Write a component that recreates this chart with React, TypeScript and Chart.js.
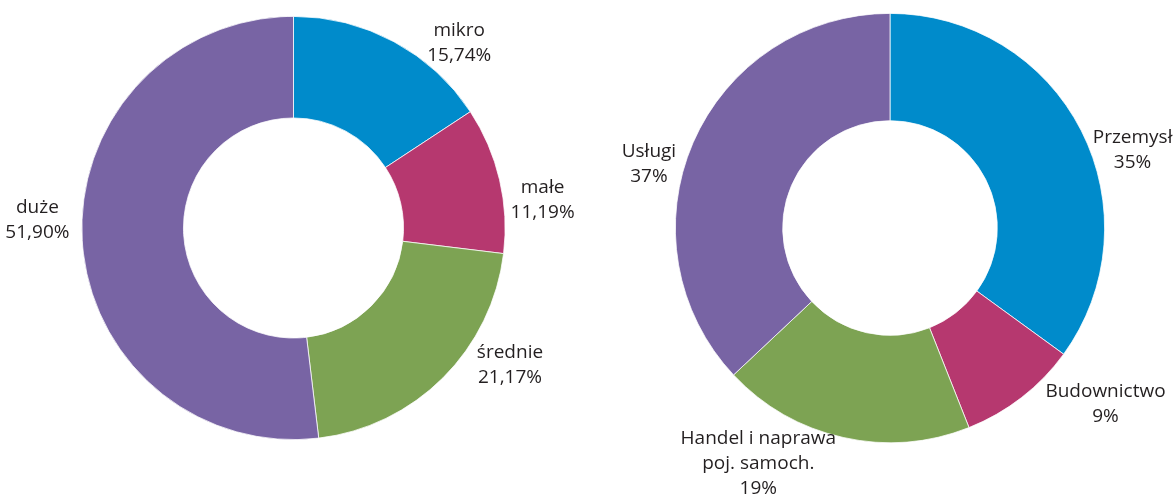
import React, { useEffect, useRef } from 'react';
import { Chart, registerables } from 'chart.js';

Chart.register(...registerables);

// ---- data ----
const sizeCategories = ['mikro', 'małe', 'średnie', 'duże'];
const sizeValues = [15.74, 11.19, 21.17, 51.9];

const sectorCategories = ['Przemysł', 'Budownictwo', 'Handel i naprawa\npoj. samoch.', 'Usługi'];
const sectorValues = [35, 9, 19, 37];

const sliceColors = ['#008BCB', '#B6386F', '#7DA353', '#7864A4'];

// ---- label layout (relative to each arc's mid-angle and outer radius) ----
const sizeLabelNudgeDeg = [13.3, 6.5, -13, 5.6];
const sizeLabelDist = [1.179, 1.185, 1.207, 1.211];
const sectorLabelNudgeDeg = [8.9, -13.2, 16.8, -8.2];
const sectorLabelDist = [1.189, 1.292, 1.25, 1.164];

const FONT_SIZE = 19;
const LINE_H = 25;
const TEXT_COLOR = '#231F20';

function makeLabelPlugin(nudge: number[], dist: number[], format: (v: number) => string) {
  return {
    id: 'outsideLabels',
    afterDatasetsDraw(chart: any) {
      const ctx = chart.ctx as CanvasRenderingContext2D;
      const meta = chart.getDatasetMeta(0);
      const data = chart.data.datasets[0].data as number[];
      ctx.save();
      ctx.font = `${FONT_SIZE}px "Open Sans"`;
      ctx.fillStyle = TEXT_COLOR;
      ctx.textAlign = 'center';
      ctx.textBaseline = 'alphabetic';
      const capH = FONT_SIZE * 0.714;
      meta.data.forEach((arc: any, i: number) => {
        const p = arc.getProps(['x', 'y', 'startAngle', 'endAngle', 'outerRadius'], true);
        const mid = (p.startAngle + p.endAngle) / 2 + (nudge[i] * Math.PI) / 180;
        const d = p.outerRadius * dist[i];
        const ax = p.x + Math.cos(mid) * d;
        const ay = p.y + Math.sin(mid) * d;
        const lines = [...String(chart.data.labels[i]).split('\n'), format(data[i])];
        const n = lines.length;
        lines.forEach((t, j) => {
          ctx.fillText(t, ax, ay + capH / 2 + (j - (n - 1) / 2) * LINE_H);
        });
      });
      ctx.restore();
    },
  };
}

function Donut(props: {
  labels: string[];
  values: number[];
  cutout: string;
  padding: { top: number; bottom: number; left: number; right: number };
  left: number;
  width: number;
  nudge: number[];
  dist: number[];
  format: (v: number) => string;
}) {
  const ref = useRef<HTMLCanvasElement | null>(null);
  useEffect(() => {
    if (!ref.current) return;
    const chart = new Chart(ref.current, {
      type: 'doughnut',
      data: {
        labels: props.labels,
        datasets: [
          {
            data: props.values,
            backgroundColor: sliceColors,
            borderColor: '#ffffff',
            borderWidth: 0.75,
          },
        ],
      },
      options: {
        responsive: false,
        animation: false,
        devicePixelRatio: 1,
        cutout: props.cutout,
        layout: { padding: props.padding },
        plugins: {
          legend: { display: false },
          tooltip: { enabled: false },
        },
      },
      plugins: [makeLabelPlugin(props.nudge, props.dist, props.format)],
    } as any);
    return () => chart.destroy();
  }, []);
  return (
    <canvas
      ref={ref}
      width={props.width}
      height={497}
      style={{ position: 'absolute', left: props.left, top: 0, width: props.width, height: 497 }}
    />
  );
}

export default function App() {
  return (
    <div style={{ position: 'absolute', left: 0, top: 0, width: 1175, height: 497, background: '#fff', overflow: 'hidden' }}>
      <Donut
        labels={sizeCategories}
        values={sizeValues}
        cutout="52%"
        padding={{ top: 16, bottom: 57, left: 0, right: 0 }}
        left={0}
        width={587}
        nudge={sizeLabelNudgeDeg}
        dist={sizeLabelDist}
        format={(v) => v.toFixed(2).replace('.', ',') + '%'}
      />
      <Donut
        labels={sectorCategories}
        values={sectorValues}
        cutout="50%"
        padding={{ top: 13, bottom: 54, left: 18, right: 0 }}
        left={587}
        width={588}
        nudge={sectorLabelNudgeDeg}
        dist={sectorLabelDist}
        format={(v) => Math.round(v) + '%'}
      />
    </div>
  );
}
